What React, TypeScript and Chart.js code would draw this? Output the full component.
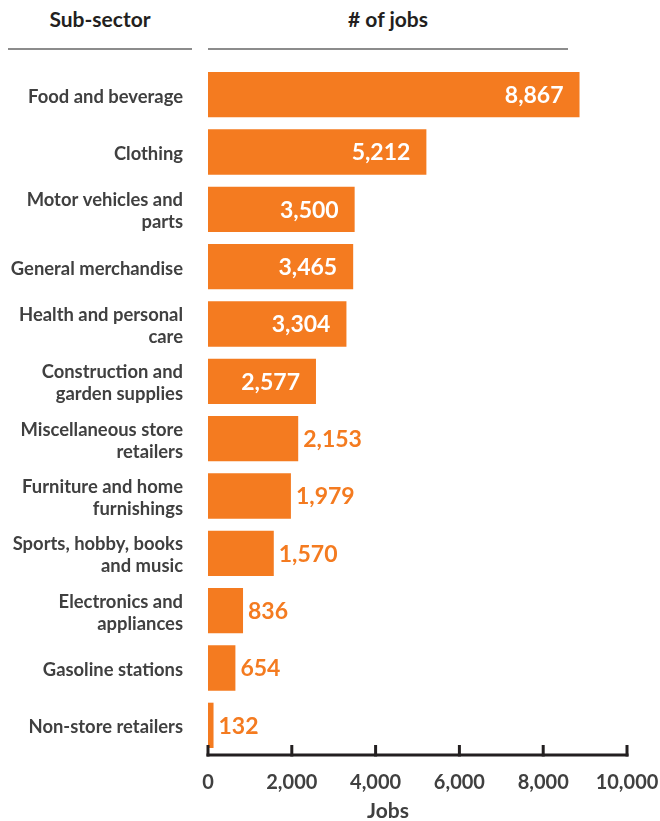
import React, { useEffect, useRef } from "react";
import { Chart, registerables } from "chart.js";
Chart.register(...registerables);

const categories: string[][] = [
  ["Food and beverage"],
  ["Clothing"],
  ["Motor vehicles and", "parts"],
  ["General merchandise"],
  ["Health and personal", "care"],
  ["Construction and", "garden supplies"],
  ["Miscellaneous store", "retailers"],
  ["Furniture and home", "furnishings"],
  ["Sports, hobby, books", "and music"],
  ["Electronics and", "appliances"],
  ["Gasoline stations"],
  ["Non-store retailers"],
];
const jobs = [8867, 5212, 3500, 3465, 3304, 2577, 2153, 1979, 1570, 836, 654, 132];
const xMin = 0;
const xMax = 10000;
const xStep = 2000;
const headerLeft = "Sub-sector";
const headerRight = "# of jobs";
const axisTitle = "Jobs";

const ORANGE = "#F47B20";
const FONT = "Lato";
const fmt = (v: number) => Number(v).toLocaleString("en-US");

const axisPlugin = {
  id: "axisLine",
  afterDraw(chart: any) {
    const { ctx, chartArea } = chart;
    const xs = chart.scales.x;
    const yb = chartArea.bottom + 1;
    ctx.save();
    ctx.strokeStyle = "#231f20";
    ctx.lineWidth = 3;
    ctx.lineCap = "butt";
    ctx.beginPath();
    ctx.moveTo(xs.getPixelForValue(xMin) - 1.5, yb);
    ctx.lineTo(xs.getPixelForValue(xMax) + 1.5, yb);
    ctx.stroke();
    xs.ticks.forEach((t: any) => {
      const px = xs.getPixelForValue(t.value);
      ctx.beginPath();
      ctx.moveTo(px, yb + 1.5);
      ctx.lineTo(px, yb - 10);
      ctx.stroke();
    });
    ctx.restore();
  },
};

const valuePlugin = {
  id: "valueLabels",
  afterDatasetsDraw(chart: any) {
    const { ctx } = chart;
    const meta = chart.getDatasetMeta(0);
    ctx.save();
    ctx.font = `bold 23px ${FONT}`;
    ctx.textBaseline = "middle";
    meta.data.forEach((el: any, i: number) => {
      const v = jobs[i];
      const txt = fmt(v);
      const inside = v >= 2500;
      if (inside) {
        ctx.fillStyle = "#ffffff";
        ctx.textAlign = "right";
        ctx.fillText(txt, el.x - 16, el.y + 1);
      } else {
        ctx.fillStyle = ORANGE;
        ctx.textAlign = "left";
        ctx.fillText(txt, el.x + 5, el.y + 1);
      }
    });
    ctx.restore();
  },
};

export default function App() {
  const ref = useRef<HTMLCanvasElement | null>(null);
  useEffect(() => {
    if (!ref.current) return;
    const chart = new Chart(ref.current, {
      type: "bar",
      data: {
        labels: categories,
        datasets: [
          {
            data: jobs,
            backgroundColor: ORANGE,
            borderWidth: 0,
            categoryPercentage: 1,
            barPercentage: 0.79,
          },
        ],
      },
      options: {
        indexAxis: "y",
        responsive: false,
        animation: false,
        devicePixelRatio: 1,
        layout: { padding: { top: 66, left: 8, right: 33, bottom: 0 } },
        plugins: {
          legend: { display: false },
          tooltip: { enabled: false },
          title: { display: false },
        },
        scales: {
          x: {
            type: "linear",
            min: xMin,
            max: xMax,
            grid: { display: false, drawTicks: true, tickLength: 17 },
            border: { display: false },
            ticks: {
              stepSize: xStep,
              padding: 0,
              color: "#404040",
              font: { family: FONT, size: 20, weight: "bold" },
              callback: (v: any) => fmt(v),
            },
            title: { display: false },
            afterFit: (s: any) => {
              s.height = 67;
            },
          },
          y: {
            grid: { display: false, drawTicks: false },
            border: { display: false },
            ticks: {
              padding: 25,
              labelOffset: 2,
              color: "#404040",
              font: { family: FONT, size: 18.4, weight: "bold", lineHeight: 1.19 },
            },
            afterFit: (s: any) => {
              s.width = 200;
            },
          },
        },
      },
      plugins: [axisPlugin, valuePlugin],
    });
    return () => chart.destroy();
  }, []);

  const headerStyle: React.CSSProperties = {
    position: "absolute",
    top: 5,
    textAlign: "center",
    font: `bold 21px ${FONT}`,
    color: "#231f20",
    lineHeight: "28px",
  };

  return (
    <div style={{ position: "absolute", left: 0, top: 0, width: 660, height: 821, background: "#fff" }}>
      <div style={{ ...headerStyle, left: 8, width: 184 }}>{headerLeft}</div>
      <div style={{ ...headerStyle, left: 208, width: 360 }}>{headerRight}</div>
      <div style={{ position: "absolute", left: 8, top: 47.5, width: 184, height: 2, background: "#8c8c8c" }} />
      <div style={{ position: "absolute", left: 208, top: 47.5, width: 360, height: 2, background: "#8c8c8c" }} />
      <canvas ref={ref} width={660} height={821} style={{ position: "absolute", left: 0, top: 0, width: 660, height: 821 }} />
      <div
        style={{
          position: "absolute",
          left: 208,
          width: 360,
          top: 797,
          textAlign: "center",
          font: `bold 21px ${FONT}`,
          color: "#404040",
          lineHeight: "26px",
        }}
      >
        {axisTitle}
      </div>
    </div>
  );
}
